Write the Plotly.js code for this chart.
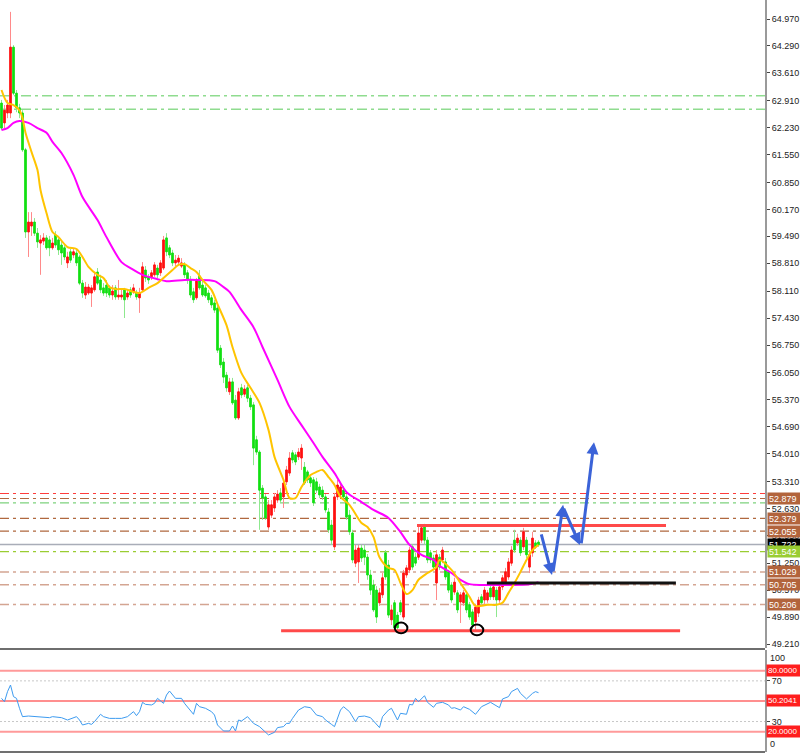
<!DOCTYPE html>
<html><head><meta charset="utf-8">
<script src="https://cdn.plot.ly/plotly-3.0.1.min.js"></script>
<style>html,body{margin:0;padding:0;background:#fff;}#chart{width:800px;height:753px;}</style>
</head><body><div id="chart"></div>
<script>
// ---------- DATA ----------
const openPx = [
62.85,62.35,62.60,62.60,64.26,63.10,62.73,62.60,61.67,59.60,
59.75,59.85,59.57,59.32,59.37,59.45,59.40,59.20,59.52,59.40,
59.27,59.20,58.82,59.10,59.02,59.07,58.97,58.31,58.01,58.06,
58.06,58.14,58.59,58.39,58.19,58.26,58.19,58.01,58.19,57.96,
57.96,58.14,57.96,58.14,58.09,58.06,57.94,58.14,58.64,58.47,
58.47,58.52,58.69,58.57,58.69,59.45,59.20,59.07,58.82,58.84,
58.74,58.77,58.57,58.39,58.09,57.94,58.49,58.26,58.19,58.06,
57.94,57.81,57.68,56.67,56.32,55.99,55.57,55.82,55.36,54.91,
55.67,55.51,55.67,55.41,55.24,54.36,54.05,53.14,52.92,52.16,
52.46,52.64,52.84,53.02,52.92,53.30,53.52,54.03,53.98,53.93,
53.90,53.67,53.55,53.40,53.35,53.30,53.17,53.09,52.92,52.54,
52.21,51.66,52.92,52.97,53.09,52.92,52.46,52.01,51.25,51.28,
51.63,51.58,51.40,50.95,50.70,50.57,50.25,50.45,51.51,51.20,
49.82,50.25,49.94,50.25,49.89,50.95,51.08,51.66,51.40,51.40,
51.83,52.16,51.83,51.51,51.38,50.75,51.40,51.33,51.28,51.03,
50.70,50.52,50.50,50.27,50.25,50.45,50.20,50.02,49.77,49.99,
50.40,50.32,50.32,50.62,50.40,50.57,50.32,50.65,50.77,50.90,
51.25,51.83,51.76,51.83,51.66,51.83,51.15,51.51,51.76,51.78];
const highPx = [
62.93,62.80,62.93,65.15,64.31,63.18,62.83,62.67,61.72,60.10,
60.10,59.95,59.70,59.52,59.57,59.52,59.50,59.45,59.62,59.50,
59.40,59.27,59.10,59.17,59.17,59.15,59.02,58.39,58.34,58.29,
58.26,58.57,58.69,58.52,58.31,58.39,58.26,58.26,58.26,58.39,
58.14,58.19,58.14,58.21,58.29,58.14,58.19,58.84,58.74,58.54,
58.64,58.84,58.77,58.89,59.50,59.57,59.27,59.15,59.02,59.02,
58.94,58.84,58.64,58.49,58.19,58.44,58.64,58.39,58.26,58.14,
58.01,57.89,57.76,56.75,56.42,56.07,55.92,55.92,55.49,55.67,
55.77,55.74,55.74,55.49,55.31,54.46,54.10,53.22,52.99,52.84,
52.84,53.02,53.09,53.14,53.35,53.70,54.05,54.10,54.05,54.15,
54.25,53.80,53.60,53.47,53.42,53.40,53.25,53.19,52.99,52.64,
52.34,53.02,53.35,53.27,53.19,52.99,52.59,52.09,51.71,51.71,
51.71,51.71,51.48,51.08,50.83,50.67,50.62,51.00,51.58,51.33,
50.20,50.32,50.02,50.32,51.08,51.20,51.66,51.73,51.51,52.21,
52.21,52.24,51.91,51.58,51.46,51.58,51.48,51.66,51.38,51.08,
50.77,50.88,50.57,50.52,50.57,50.52,50.27,50.09,50.22,50.40,
50.47,50.65,50.57,50.70,50.72,50.65,50.72,50.95,51.13,51.38,
51.68,52.09,51.99,51.91,52.14,51.91,51.58,52.04,51.83,51.83];
const lowPx = [
62.17,62.22,62.47,62.47,63.05,62.62,62.47,61.62,59.45,58.97,
59.50,59.50,59.20,58.52,59.27,59.15,58.99,59.15,59.20,59.02,
58.77,58.89,58.69,58.82,58.94,58.74,58.26,57.94,57.91,58.01,
57.71,58.09,58.26,58.06,57.99,57.96,57.94,57.89,57.89,57.89,
57.89,57.43,57.89,57.94,58.04,57.89,57.56,58.09,58.34,58.29,
58.39,58.47,58.44,58.49,58.64,58.99,58.94,58.74,58.74,58.77,
58.69,58.44,58.29,57.94,57.81,57.89,58.14,57.96,57.94,57.81,
57.68,57.56,56.55,56.17,55.79,55.57,55.49,55.24,54.86,54.86,
55.41,55.44,55.31,55.11,53.72,53.98,52.09,52.34,52.34,52.09,
52.39,52.54,52.77,52.77,52.64,53.22,53.45,53.77,53.72,53.85,
53.60,53.22,53.27,53.17,52.69,53.02,52.89,52.84,52.52,52.01,
51.71,51.58,52.84,52.89,52.84,52.34,51.96,51.25,51.15,50.75,
51.28,51.20,50.83,50.45,50.02,49.74,50.17,50.37,50.83,49.87,
49.69,49.54,49.57,49.94,49.82,50.88,51.00,51.08,51.18,51.33,
51.76,51.71,51.25,51.25,51.08,50.32,51.08,51.25,50.83,50.50,
50.25,50.45,49.99,49.74,50.17,49.99,49.82,49.59,49.57,49.89,
50.17,50.22,50.25,50.32,50.32,49.89,50.25,50.57,50.70,50.83,
51.18,51.51,51.68,51.43,51.58,51.38,51.00,51.41,51.61,51.66];
const closePx = [
62.22,62.67,62.80,64.26,63.10,62.73,62.60,61.67,59.60,59.85,
59.85,59.57,59.35,59.40,59.45,59.20,59.20,59.32,59.27,59.15,
59.07,58.97,58.97,58.89,59.10,58.82,58.31,58.06,58.21,58.21,
58.19,58.47,58.31,58.14,58.06,58.06,58.01,58.11,57.96,58.01,
58.01,57.89,58.06,58.01,58.19,57.96,58.06,58.72,58.44,58.39,
58.57,58.77,58.52,58.82,59.40,59.10,59.02,58.82,58.89,58.94,
58.82,58.52,58.39,58.01,57.89,58.36,58.19,58.01,57.99,57.89,
57.76,57.63,56.62,56.25,55.94,55.67,55.82,55.29,54.91,55.57,
55.49,55.64,55.41,55.19,54.15,54.05,53.09,52.89,52.39,52.72,
52.72,52.92,52.99,52.84,53.27,53.60,53.90,53.85,53.80,54.05,
54.15,53.27,53.35,53.27,52.77,53.09,52.97,52.92,52.59,52.09,
51.83,52.92,53.22,53.17,52.92,52.41,52.04,51.33,51.58,51.63,
51.38,51.40,50.95,50.57,50.07,49.89,50.50,50.88,50.90,49.94,
50.07,49.62,49.62,50.02,51.00,51.13,51.58,51.15,51.25,52.01,
52.14,51.83,51.33,51.33,51.15,51.46,51.15,51.58,50.90,50.57,
50.32,50.77,50.07,50.45,50.50,50.07,49.89,49.69,50.14,50.32,
50.25,50.57,50.50,50.40,50.65,50.32,50.65,50.88,51.03,51.28,
51.58,51.58,51.88,51.51,52.04,51.46,51.46,51.88,51.66,51.71];

const maFastBar = [0,2,4,6,7,8,10,12,13,15,17,19,22,25,27,29,32,34,36,38,41,44,46,49,52,54,57,59,61,63,65,67,70,72,75,77,80,83,86,89,91,94,96,98,100,103,105,107,109,111,113,116,120,122,124,126,129,131,133,135,137,139,142,145,146,150,153,156,158,162,165,167,169,171,173,175,177,179];
const maFastVal = [63.18,62.85,62.80,62.67,62.47,62.10,61.62,61.16,60.66,60.08,59.60,59.47,59.22,59.17,58.97,58.72,58.52,58.44,58.21,58.16,58.16,58.09,58.06,58.19,58.31,58.44,58.64,58.77,58.79,58.69,58.59,58.39,58.14,57.78,57.25,56.70,56.04,55.67,55.29,54.61,53.93,53.35,52.89,52.89,53.17,53.47,53.55,53.60,53.42,53.22,52.92,52.72,52.26,52.16,51.91,51.40,51.13,51.08,50.75,50.47,50.57,50.83,51.00,51.15,51.33,51.08,50.75,50.40,50.17,50.20,50.20,50.25,50.50,50.75,51.03,51.33,51.58,51.71];
const maSlowBar = [0,2,4,6,9,12,15,17,20,24,27,32,35,40,43,47,52,55,61,65,71,74,76,80,84,87,92,96,100,104,107,111,115,120,124,129,133,136,140,144,146,150,153,156,160,163,170,176,179];
const maSlowVal = [62.17,62.22,62.35,62.40,62.35,62.22,62.10,61.87,61.59,61.04,60.48,59.90,59.47,58.84,58.69,58.52,58.41,58.36,58.39,58.39,58.36,58.21,58.09,57.63,57.20,56.70,55.87,55.19,54.73,54.28,53.93,53.52,53.04,52.79,52.59,52.39,52.03,51.71,51.46,51.33,51.18,51.00,50.83,50.72,50.70,50.70,50.70,50.72,50.77];

const rsiBar = [0,1,2,3,4,5,6,7,9,11,14,16,17,20,22,24,25,26,27,29,30,31,33,34,36,38,40,42,44,45,46,47,48,50,51,52,54,55,56,58,60,61,63,64,65,66,68,70,71,72,74,76,77,78,79,80,82,83,84,86,88,89,91,92,94,95,96,97,99,101,103,105,107,108,110,111,113,114,116,117,118,119,121,123,126,127,129,130,132,133,135,136,137,138,139,141,142,144,145,147,149,150,151,153,154,156,158,160,161,163,166,167,169,170,172,173,175,177,178,179];
const rsiVal = [52.8,49.5,59.4,65.9,54.5,52.8,43.0,34.8,35.4,34.8,33.8,33.8,34.8,33.8,31.5,34.1,34.8,31.5,26.6,28.2,27.2,29.9,37.1,34.8,33.1,33.1,33.1,34.8,39.7,35.8,39.7,48.9,46.9,46.3,47.9,52.8,47.9,56.1,60.0,52.8,52.8,47.9,41.3,37.1,47.9,44.6,43.0,39.7,36.4,26.6,20.7,20.7,25.6,20.7,31.5,30.5,34.8,31.5,28.2,25.0,19.4,16.8,19.4,24.0,25.0,28.2,28.2,33.1,41.3,44.6,43.6,36.4,34.8,31.5,27.2,25.0,41.3,44.6,39.7,34.8,29.9,34.8,35.4,33.8,24.0,34.8,41.3,43.0,31.5,38.1,37.1,46.9,46.3,52.8,49.5,55.4,48.9,44.0,47.9,48.9,46.3,43.0,43.6,41.3,44.6,42.0,37.1,44.6,46.3,48.9,43.6,52.2,54.5,59.4,62.6,57.7,52.2,57.7,59.4,58.4];

const priceTicks = [64.97,64.29,63.61,62.91,62.23,61.55,60.85,60.17,59.49,58.81,58.11,57.43,56.75,56.05,55.37,54.69,54.01,53.31,52.63,51.95,51.25,50.57,49.89,49.21];
const priceTickLabels = ['64.970','64.290','63.610','62.910','62.230','61.550','60.850','60.170','59.490','58.810','58.110','57.430','56.750','56.050','55.370','54.690','54.010','53.310','52.630','51.950','51.250','50.570','49.890','49.210'];

const levelPrices = [63.036, 62.693, 53.006, 52.879, 52.767, 52.379, 52.055, 51.722, 51.542, 51.029, 50.705, 50.206];
const levelTags = ['', '', '', '52.879', '', '52.379', '52.055', '51.722', '51.542', '51.029', '50.705', '50.206'];

const rsiLevels = [80, 50.2041, 20];
const rsiLevelTags = ['80.0000', '50.2041', '20.0000'];
const rsiGuides = [70, 30];

const resistLine = {from: 138.5, to: 221.5, price: 52.20};
const supportLine = {from: 93.2, to: 226.2, price: 49.545};
const neckLine = {from: 161.8, to: 224.8, price: 50.75};
const lowMarkBar = [133.2, 158.5];
const lowMarkPrice = [49.615, 49.565];

const arrowFromBar = [179.8, 183.8, 187.2, 193.2];
const arrowFromPrice = [52.01, 51.00, 52.66, 51.71];
const arrowToBar = [183.5, 187.2, 192.8, 197.5];
const arrowToPrice = [50.95, 52.72, 51.71, 54.30];

// ---------- STYLE / BUILD ----------
const FONT = 'Liberation Sans, Arial, sans-serif';
const bars = openPx.map((_, i) => i);
const bodyHigh = openPx.map((o, i) => Math.max(o, closePx[i]));
const bodyLow = openPx.map((o, i) => Math.min(o, closePx[i]));

const levelStyle = [
  {c:'#8fdc8f', w:1.5, d:'10px,4px,3px,4px'},
  {c:'#8fdc8f', w:1.5, d:'10px,4px,3px,4px'},
  {c:'#ff3c3c', w:1.2, d:'9px,4px,3px,4px'},
  {c:'#b0683f', w:1.2, d:'9px,4px,3px,4px'},
  {c:'#7ed27e', w:1.2, d:'9px,4px,3px,4px'},
  {c:'#b0683f', w:1.2, d:'9px,4px,3px,4px'},
  {c:'#b0683f', w:1.2, d:'9px,4px,3px,4px'},
  {c:'#a9adb8', w:1.5, d:'solid'},
  {c:'#9acd32', w:1.2, d:'9px,4px,3px,4px'},
  {c:'#d4a592', w:1.5, d:'9px,4px,3px,4px'},
  {c:'#d4a592', w:1.5, d:'9px,4px,3px,4px'},
  {c:'#d4a592', w:1.5, d:'9px,4px,3px,4px'}
];
const tagColor = ['', '', '', '#b2643c', '', '#b2643c', '#b2643c', '#000000', '#9acd32', '#b2643c', '#b2643c', '#b2643c'];

const traces = [
  {type:'candlestick', x:bars, open:openPx, high:highPx, low:lowPx, close:closePx,
   xaxis:'x', yaxis:'y', hoverinfo:'skip', whiskerwidth:0,
   increasing:{line:{color:'#ff8a8a', width:1}, fillcolor:'#ff8a8a'},
   decreasing:{line:{color:'#8ee88e', width:1}, fillcolor:'#8ee88e'}},
  {type:'candlestick', x:bars, open:openPx, high:bodyHigh, low:bodyLow, close:closePx,
   xaxis:'x', yaxis:'y', hoverinfo:'skip', whiskerwidth:0,
   increasing:{line:{color:'#ff1010', width:1}, fillcolor:'#ff1010'},
   decreasing:{line:{color:'#12e012', width:1}, fillcolor:'#12e012'}},
  {type:'scatter', mode:'lines', x:maSlowBar, y:maSlowVal, xaxis:'x', yaxis:'y',
   line:{color:'#ff00ff', width:2, shape:'spline', smoothing:0.8}, hoverinfo:'skip'},
  {type:'scatter', mode:'lines', x:maFastBar, y:maFastVal, xaxis:'x', yaxis:'y',
   line:{color:'#ffc400', width:2, shape:'spline', smoothing:0.8}, hoverinfo:'skip'},
  {type:'scatter', mode:'lines', x:rsiBar, y:rsiVal, xaxis:'x', yaxis:'y2',
   line:{color:'#3d9bf0', width:1}, hoverinfo:'skip'}
];

const H = 753;
const shapes = [];
levelPrices.forEach((p, i) => {
  const s = levelStyle[i];
  shapes.push({type:'line', layer:'below', xref:'paper', yref:'y', x0:0, x1:1, y0:p, y1:p,
    line:{color:s.c, width:s.w, dash:s.d}});
});
rsiGuides.forEach(v => shapes.push({type:'line', layer:'below', xref:'paper', yref:'y2', x0:0, x1:1, y0:v, y1:v,
  line:{color:'#c8c8c8', width:1, dash:'2px,2px'}}));
rsiLevels.forEach((v, i) => shapes.push({type:'line', layer:'below', xref:'paper', yref:'y2', x0:0, x1:1, y0:v, y1:v,
  line:{color: i === 1 ? '#ff2020' : '#ff9a9a', width: i === 1 ? 1.2 : 2}}));
// pane separators
shapes.push({type:'line', xref:'paper', yref:'paper', x0:0, x1:1, y0:1-649/H, y1:1-649/H, line:{color:'#6e6e6e', width:2}});
shapes.push({type:'line', xref:'paper', yref:'paper', x0:0, x1:1, y0:1-752/H, y1:1-752/H, line:{color:'#404040', width:1.5}});
// drawings
[resistLine, supportLine].forEach(l => shapes.push({type:'line', xref:'x', yref:'y', x0:l.from, x1:l.to, y0:l.price, y1:l.price,
  line:{color:'#ff4a4a', width:3}}));
shapes.push({type:'line', xref:'x', yref:'y', x0:neckLine.from, x1:neckLine.to, y0:neckLine.price, y1:neckLine.price,
  line:{color:'#111111', width:3}});
lowMarkBar.forEach((b, i) => shapes.push({type:'circle', xref:'x', yref:'y', x0:b-2.1, x1:b+2.1,
  y0:lowMarkPrice[i]-0.135, y1:lowMarkPrice[i]+0.135, line:{color:'#000', width:2}}));

const annotations = [];
levelPrices.forEach((p, i) => {
  if (!levelTags[i]) return;
  annotations.push({xref:'paper', yref:'y', x:1, y:p, xanchor:'left', yanchor:'middle', xshift:2,
    text:levelTags[i], showarrow:false, bgcolor:tagColor[i], borderpad:1, width:30, height:9, align:'left',
    font:{family:FONT, size:9, color:'#ffffff'}});
});
rsiLevels.forEach((v, i) => annotations.push({xref:'paper', yref:'y2', x:1, y:v, xanchor:'left', yanchor:'middle', xshift:1,
  text:rsiLevelTags[i], showarrow:false, bgcolor:'#ff1e1e', borderpad:1, width:31, height:9, align:'left',
  font:{family:FONT, size:8, color:'#ffffff'}}));
annotations.push({xref:'paper', yref:'y2', x:1, y:100.36, xanchor:'left', yanchor:'top', xshift:3, yshift:-1,
  text:'100', showarrow:false, font:{family:FONT, size:9, color:'#222'}});
annotations.push({xref:'paper', yref:'y2', x:1, y:0.03, xanchor:'left', yanchor:'bottom', xshift:3, yshift:1,
  text:'0', showarrow:false, font:{family:FONT, size:9, color:'#222'}});
arrowToBar.forEach((b, i) => annotations.push({xref:'x', yref:'y', axref:'x', ayref:'y',
  x:b, y:arrowToPrice[i], ax:arrowFromBar[i], ay:arrowFromPrice[i], text:'', showarrow:true,
  arrowhead:2, arrowsize:0.8, arrowwidth:3, arrowcolor:'#3b63d8', standoff:0, startstandoff:0}));

const tickFont = {family:FONT, size:9, color:'#222'};
const layout = {
  width:800, height:H, margin:{l:0, r:35, t:0, b:0, pad:0},
  paper_bgcolor:'#ffffff', plot_bgcolor:'#ffffff', showlegend:false, hovermode:false,
  boxgap:0.3,
  xaxis:{domain:[0,1], range:[-0.5,254.5], anchor:'y2', showticklabels:false, showgrid:false,
    zeroline:false, showline:false, ticks:'', rangeslider:{visible:false}, fixedrange:true},
  yaxis:{domain:[1-648/H,1], range:[49.110,65.449], side:'right', anchor:'x', showgrid:false, zeroline:false,
    showline:true, linecolor:'#9a9a9a', linewidth:2, ticks:'outside', ticklen:3, tickwidth:1, tickcolor:'#444',
    tickmode:'array', tickvals:priceTicks, ticktext:priceTickLabels, tickfont:tickFont, fixedrange:true},
  yaxis2:{domain:[1-752/H,1-650/H], range:[0.03,100.36], side:'right', anchor:'x', showgrid:false, zeroline:false,
    showline:true, linecolor:'#9a9a9a', linewidth:2, ticks:'outside', ticklen:3, tickwidth:1, tickcolor:'#444',
    tickmode:'array', tickvals:rsiGuides, ticktext:rsiGuides.map(String), tickfont:tickFont, fixedrange:true},
  shapes, annotations
};
Plotly.newPlot('chart', traces, layout, {staticPlot:true, displayModeBar:false});
</script>
</body></html>
